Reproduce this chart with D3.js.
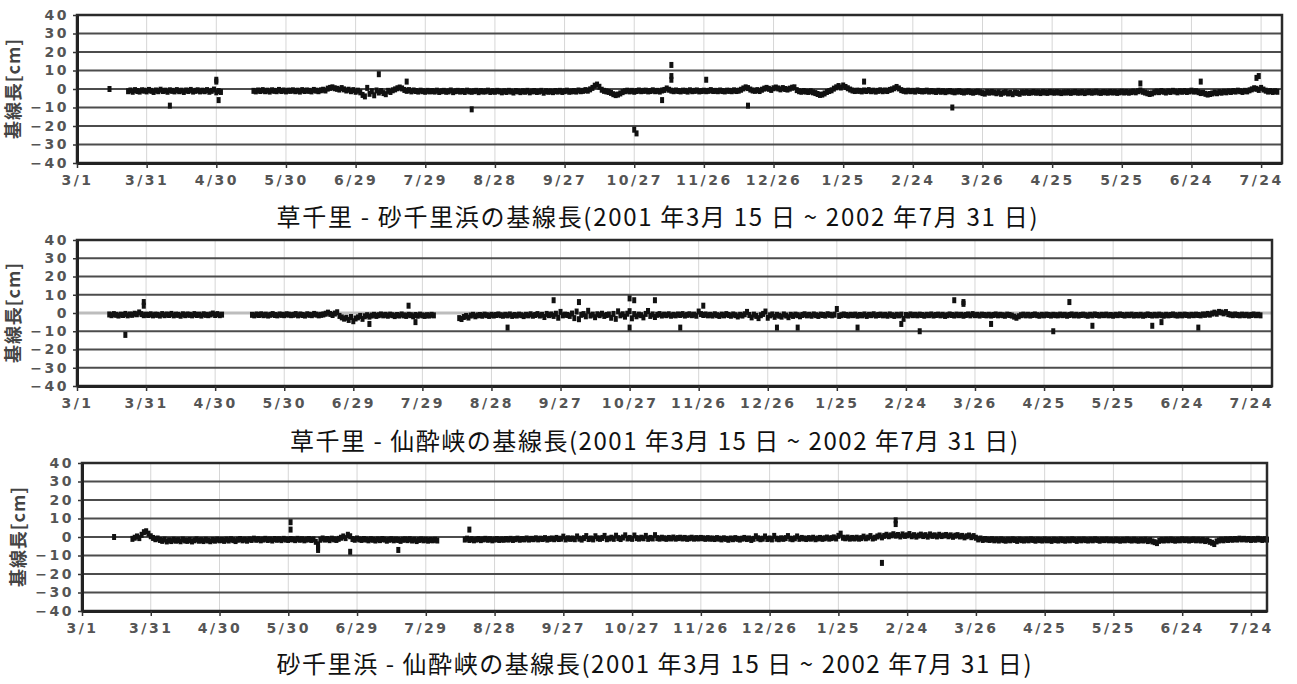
<!DOCTYPE html>
<html>
<head>
<meta charset="utf-8">
<style>
  body { margin: 0; background: #fff; }
  svg { display: block; }
  .tick text { font-family: "DejaVu Sans", sans-serif; font-size: 14px; font-weight: bold; fill: #555; letter-spacing: 2.5px; }
  .tick line { stroke: #333; stroke-width: 1.5; }
  .domain { stroke: #222; stroke-width: 3; }
  .title { font-family: "Noto Sans CJK JP", sans-serif; font-size: 24px; fill: #111; }
  .ylab { font-family: "Noto Sans CJK JP", sans-serif; font-size: 18px; font-weight: bold; fill: #444; }
</style>
</head>
<body>
<script src="https://cdn.jsdelivr.net/npm/d3@7"></script>
<script>

// x tick dates (every 30 days from 3/1/2001)
var tickDates = ["2001-03-01","2001-03-31","2001-04-30","2001-05-30","2001-06-29","2001-07-29",
  "2001-08-28","2001-09-27","2001-10-27","2001-11-26","2001-12-26","2002-01-25","2002-02-24",
  "2002-03-26","2002-04-25","2002-05-25","2002-06-24","2002-07-24"];
var yTicks = [40, 30, 20, 10, 0, -10, -20, -30, -40];

var titles = [
  "草千里 - 砂千里浜の基線長(2001 年3月 15 日 ~ 2002 年7月 31 日)",
  "草千里 - 仙酔峡の基線長(2001 年3月 15 日 ~ 2002 年7月 31 日)",
  "砂千里浜 - 仙酔峡の基線長(2001 年3月 15 日 ~ 2002 年7月 31 日)"
];
var yLabel = "基線長[cm]";

// 草千里 - 砂千里浜 : daily values [cm], one run per month / data block
var p1Runs = [
  ["2001-03-23", [-1.2,-0.8,-1.5,-0.6,-1.1,-1.4,-0.7,-0.9,-1.3,-0.5,-1.0,-1.6,-0.8,-1.2,-0.4,-1.1,-0.9,-1.5,-0.7,-1.0,
                  -1.3,-0.6,-1.2,-0.9,-1.6,-0.8,-1.1,-0.5,-1.4,-1.0,-0.7,-1.3,-0.9,-1.2,-0.6,-1.5,-1.0,-0.3,-1.8,-1.1,-1.6]],
  ["2001-05-16", [-1.0,-1.3,-0.8,-1.1,-0.6,-1.2,-0.9,-1.4,-0.7,-1.0,-1.2,-0.5,-1.1,-0.8,-1.3,-0.9]],
  ["2001-06-01", [-1.0,-0.7,-1.2,-0.9,-1.4,-0.6,-1.1,-0.8,-1.0,-1.3,-0.5,-0.9,-1.2,-0.7,-0.4,-0.8,0.2,0.6,0.9,0.4,0.1,-0.3,0.5,-0.2,-0.8,-0.4,-1.2,-0.6,-1.5,-0.9]],
  ["2001-07-01", [-1.8,-3.2,-4.0,0.6,-2.6,-1.2,-3.4,-0.8,-1.9,-1.1,-2.2,-2.8,-1.0,-1.6,-0.7,-0.2,0.4,0.8,0.3,-0.5,-1.0,-0.6,-1.3,-0.8,-1.1,-1.4,-0.9,-1.2,-1.5,-1.0,-1.3]],
  ["2001-08-01", [-1.1,-1.4,-0.9,-1.6,-1.2,-1.0,-1.5,-1.3,-0.8,-1.7,-1.2,-1.0,-1.4,-1.1,-1.6,-0.9,-1.3,-1.5,-1.2,-1.0,-1.7,-1.1,-1.4,-1.3,-0.9,-1.6,-1.2,-1.5,-1.0,-1.3,-1.8]],
  ["2001-09-01", [-1.2,-1.6,-1.0,-1.4,-1.9,-1.1,-1.3,-1.7,-1.2,-1.5,-1.0,-1.8,-1.3,-1.1,-1.6,-1.4,-1.0,-2.0,-1.2,-1.5,-1.3,-1.7,-1.1,-1.4,-1.0,-1.6,-1.2,-0.9,-1.5,-1.3]],
  ["2001-10-01", [-1.1,-1.4,-0.8,-1.2,-1.0,-0.6,-0.9,-0.2,0.6,1.8,2.4,1.2,-0.4,-1.0,-1.3,-1.6,-2.1,-2.8,-3.3,-3.0,-2.4,-1.7,-1.2,-0.9,-1.3,-1.0,-1.5,-1.1,-0.8,-1.2,-1.0]],
  ["2001-11-01", [-0.9,-1.3,-1.1,-0.7,-1.2,-1.0,-1.4,-0.8,-0.5,0.3,-0.4,-0.9,-1.2,-0.8,-1.1,-1.3,-0.9,-1.0,-1.4,-0.7,-1.2,-1.0,-0.8,-1.3,-1.1,-0.9,-1.2,-1.0,-0.6,-1.1]],
  ["2001-12-01", [-1.0,-1.2,-0.8,-1.1,-1.3,-0.9,-1.0,-1.2,-0.7,-1.1,-0.9,-0.4,0.3,0.9,0.5,-0.3,-0.8,-1.0,-0.6,-1.1,-0.4,0.2,0.6,0.1,-0.5,0.4,0.8,0.3,-0.2,0.5,0.0]],
  ["2002-01-01", [-0.3,0.2,0.7,0.9,-0.6,-1.2,-1.5,-1.1,-1.4,-1.6,-1.2,-1.8,-2.2,-2.7,-3.2,-3.0,-2.4,-1.6,-1.1,-0.7,0.2,0.9,1.6,0.8,1.9,1.1,0.4,-0.3,-0.8,-1.1,-0.9]],
  ["2002-02-01", [-1.0,-1.3,-0.8,-1.1,-0.6,-1.2,-0.9,-1.4,-1.0,-0.7,-1.2,-0.8,-1.1,-0.5,-0.2,0.4,1.1,0.3,-0.6,-1.0,-1.3,-0.9,-1.2,-1.0,-1.4,-0.8,-1.1,-1.3]],
  ["2002-03-01", [-1.2,-0.9,-1.4,-1.1,-1.3,-1.6,-1.0,-1.5,-1.2,-1.7,-1.3,-1.1,-1.5,-1.8,-1.4,-1.2,-1.6,-1.9,-1.5,-1.3,-1.7,-2.0,-1.6,-1.4,-1.8,-2.2,-2.5,-1.7,-2.0,-1.6,-1.9]],
  ["2002-04-01", [-2.3,-1.8,-2.6,-2.0,-1.7,-2.4,-2.1,-2.8,-1.9,-2.2,-2.6,-1.8,-2.0,-1.7,-2.1,-1.9,-1.6,-2.0,-1.8,-2.2,-1.7,-1.9,-2.1,-1.6,-1.8,-2.0,-1.7,-1.9,-2.2,-1.8]],
  ["2002-05-01", [-1.9,-1.7,-2.1,-1.8,-1.6,-2.0,-1.9,-1.7,-2.2,-1.8,-1.6,-2.0,-1.8,-1.5,-1.9,-2.1,-1.7,-1.8,-2.0,-1.6,-1.9,-1.7,-2.1,-1.8,-1.5,-1.9,-1.6,-2.0,-1.7,-1.4,-1.8]],
  ["2002-06-01", [-1.2,-0.8,-1.5,-1.9,-2.3,-2.7,-2.4,-1.8,-1.4,-1.7,-1.1,-1.5,-1.9,-1.3,-1.6,-1.0,-1.4,-1.8,-1.2,-1.5,-1.1,-1.6,-1.3,-0.9,-1.4,-1.2,-1.7,-2.2,-2.0,-2.6]],
  ["2002-07-01", [-3.0,-2.7,-2.4,-1.9,-2.3,-1.7,-2.0,-1.5,-1.8,-1.3,-1.6,-1.1,-1.4,-0.9,-1.2,-1.6,-1.0,-1.3,-0.7,-0.2,0.4,0.1,-0.5,0.6,-0.3,-0.9,-1.4,-1.1,-1.6,-1.2,-1.5]]
];
var p1Extra = [["2001-03-15",0],["2001-04-10",-9],["2001-04-30",5],["2001-04-30",4],["2001-05-01",-6],
  ["2001-07-09",8],["2001-07-21",4],["2001-08-18",-11],["2001-10-27",-22],["2001-10-28",-24],
  ["2001-11-08",-6],["2001-11-12",13],["2001-11-12",7],["2001-11-12",5],["2001-11-27",5],
  ["2001-12-15",-9],["2002-02-03",4],["2002-03-13",-10],["2002-06-02",3],["2002-06-28",4],
  ["2002-07-23",7],["2002-07-22",6]];

// 草千里 - 仙酔峡
var p2Runs = [
  ["2001-03-15", [-0.8,-1.2,-0.6,-1.0,-1.4,-0.9,-1.1,-0.5,-1.3,-0.8,-1.0,-0.4,-0.7,0.3,-0.6,-1.2,-0.9]],
  ["2001-04-01", [-1.1,-0.7,-1.3,-0.9,-1.0,-1.4,-0.6,-1.2,-0.8,-1.1,-0.5,-1.3,-0.9,-1.0,-1.5,-0.7,-1.2,-0.8,-1.0,-1.3,-0.6,-1.1,-0.9,-1.4,-0.7,-1.0,-1.2,-0.8,-0.3,-1.1]],
  ["2001-05-01", [-0.6,-1.2,-0.9]],
  ["2001-05-16", [-1.0,-1.3,-0.8,-1.1,-0.7,-1.2,-0.9,-1.4,-1.0,-0.6,-1.1,-1.3,-0.8,-1.0,-1.2,-0.7]],
  ["2001-06-01", [-0.9,-1.2,-1.0,-0.6,-1.3,-0.8,-1.1,-1.4,-0.7,-1.0,-1.2,-0.5,-0.9,-1.3,-1.0,-0.8,-0.4,0.2,-0.5,-1.1,-0.3,0.4,-1.6,-2.4,-3.1,-2.6,-3.8,-2.2,-4.5,-3.0]],
  ["2001-07-01", [-2.4,-1.6,-3.2,-1.8,-1.2,-2.0,-1.4,-1.0,-1.6,-1.2,-0.8,-1.3,-1.0,-1.5,-0.9,-1.2,-1.7,-1.1,-1.4,-0.8,-1.3,-1.6,-1.0,-1.2,-1.8,-1.1,-1.5,-0.9,-1.3,-1.6,-1.2]],
  ["2001-08-01", [-1.4,-1.0,-1.3]],
  ["2001-08-14", [-2.8,-3.3,-2.2,-1.6,-2.5,-1.4,-1.0,-1.8,-1.3,-1.1,-1.5,-0.9,-1.2,-1.6,-1.0,-1.4,-1.1,-0.8]],
  ["2001-09-01", [-1.2,-1.5,-1.0,-1.3,-0.8,-1.6,-1.1,-1.4,-0.9,-1.2,-1.7,-1.0,-1.3,-0.7,-1.5,-1.1,-0.6,-1.4,-1.0,-2.2,-0.5,-1.2,-0.8,-1.6,-0.4,-2.6,0.6,-1.3,-0.9,-1.1]],
  ["2001-10-01", [-1.6,-0.3,-2.8,0.8,-3.4,-1.0,-0.6,-1.8,1.2,-1.4,-0.9,-2.3,-0.7,-1.2,-0.4,-1.6,-1.1,-0.8,-2.6,-0.5,-3.2,0.9,-1.3,-0.7,-2.0,-0.4,1.0,-2.9,-0.6,-1.8,-0.9]],
  ["2001-11-01", [-1.2,-2.4,-0.5,1.1,-1.6,-0.8,-2.2,-1.0,-0.6,-1.4,-0.9,-1.2,-0.7,-1.5,-1.0,-1.3,-0.8,-1.1,-0.6,-1.4,-1.0,-0.7,-1.2,-0.9,-1.5,0.8,-0.6,-1.1,-0.8,-1.3]],
  ["2001-12-01", [-1.0,-1.4,-0.7,-1.2,-1.6,-0.9,-1.3,-0.6,-1.1,-1.5,-0.8,-1.2,-1.9,-1.0,-1.4,-0.7,0.6,-1.1,-2.4,-0.9,-1.6,-2.8,-1.2,-0.5,0.8,-2.6,-1.3,-0.8,-2.1,-1.0,-1.5]],
  ["2002-01-01", [-2.0,-0.8,-1.4,-2.3,-1.0,-1.6,-0.9,-1.2,-1.8,-1.1,-0.7,-1.3,-1.0,-1.5,-0.8,-1.2,-1.6,-0.9,-1.1,-1.4,-0.7,-1.0,-1.3,-0.9,2.2,-1.6,-1.2,-0.8,-1.1,-1.4,-1.0]],
  ["2002-02-01", [-1.2,-0.9,-1.5,-1.1,-1.3,-0.8,-1.6,-1.0,-1.2,-0.7,-1.4,-1.1,-0.9,-1.3,-1.0,-1.5,-0.8,-1.2,-1.6,-1.0,-1.3,-0.9,-3.2,-1.1,-1.4,-0.8,-1.2,-1.0]],
  ["2002-03-01", [-1.3,-0.9,-1.1,-1.5,-1.0,-1.2,-0.8,-1.4,-1.1,-0.9,-1.3,-1.0,-1.6,-1.2,-0.8,-1.1,-1.4,-0.9,-1.2,-1.0,-1.5,-1.1,-0.8,-1.3,-0.6,-1.2,-1.0,-1.4,-0.9,-1.1,-1.3]],
  ["2002-04-01", [-1.0,-1.4,-1.1,-0.8,-1.3,-1.0,-1.2,-1.5,-0.9,-1.1,-1.4,-2.0,-2.6,-1.8,-1.2,-0.9,-1.3,-1.0,-1.4,-1.1,-0.8,-1.2,-1.5,-1.0,-1.3,-0.9,-1.1,-1.4,-1.0,-1.2]],
  ["2002-05-01", [-1.3,-0.9,-1.2,-1.0,-1.5,-1.1,-0.8,-1.3,-1.0,-1.4,-1.1,-0.9,-1.2,-1.5,-1.0,-1.3,-0.8,-1.1,-1.4,-1.0,-1.2,-0.9,-1.3,-1.1,-1.5,-1.0,-1.2,-0.8,-1.1,-1.4,-1.0]],
  ["2002-06-01", [-1.2,-0.9,-1.4,-1.1,-1.3,-1.0,-1.5,-1.2,-0.8,-1.1,-1.4,-1.0,-1.3,-0.9,-1.2,-1.5,-1.0,-1.3,-1.1,-0.8,-1.2,-1.4,-1.0,-1.3,-0.9,-1.1,-1.4,-1.0,-1.2,-0.9]],
  ["2002-07-01", [-1.1,-1.3,-0.8,-1.0,-0.5,-0.9,-0.3,0.2,-0.4,0.6,0.3,-0.2,0.5,-0.6,-0.9,-1.2,-0.8,-1.1,-1.3,-0.9,-1.2,-1.0,-1.4,-1.1,-0.8,-1.2,-1.0,-1.3]]
];
var p2Extra = [["2001-03-22",-12],["2001-03-30",6],["2001-03-30",4],["2001-07-06",-6],["2001-07-23",4],
  ["2001-07-26",-5],["2001-09-04",-8],["2001-09-24",7],["2001-10-05",6],["2001-10-27",8],
  ["2001-10-27",-8],["2001-10-29",7],["2001-11-07",7],["2001-11-18",-8],["2001-11-28",4],
  ["2001-12-30",-8],["2002-01-08",-8],["2002-02-03",-8],["2002-02-22",-6],["2002-03-02",-10],
  ["2002-03-17",7],["2002-03-21",6],["2002-03-21",5],["2002-04-02",-6],["2002-04-29",-10],
  ["2002-05-06",6],["2002-05-16",-7],["2002-06-11",-7],["2002-06-15",-5],["2002-07-01",-8]];

// 砂千里浜 - 仙酔峡
var p3Runs = [
  ["2001-03-23", [-1.0,-0.4,0.3,-0.6,1.2,2.6,3.1,1.8,0.4]],
  ["2001-04-01", [-0.5,-1.2,-0.8,-1.6,-2.1,-1.4,-2.4,-1.8,-2.2,-1.5,-2.0,-1.7,-2.3,-1.4,-1.9,-2.1,-1.6,-2.4,-1.8,-1.3,-2.0,-1.7,-2.2,-1.5,-1.9,-2.3,-1.6,-2.0,-1.4,-1.8]],
  ["2001-05-01", [-1.6,-2.1,-1.4,-1.9,-1.2,-1.7,-2.2,-1.5,-1.1,-1.8,-1.4,-2.0,-1.3,-1.6,-0.9,-1.5,-1.2,-1.8,-1.4,-1.0,-1.6,-1.3,-1.9,-1.1,-1.5,-1.2,-1.7,-1.0,-1.4,-1.6,-1.1]],
  ["2001-06-01", [-1.3,-1.7,-1.0,-1.5,-1.2,-1.8,-1.4,-1.1,-1.6,-1.3,-2.6,-5.8,-1.5,-0.8,-1.4,-1.1,-1.7,-0.9,-1.3,-1.6,-1.0,-0.4,0.3,-0.6,1.2,0.4,-1.1,-1.5,-0.8,-1.3]],
  ["2001-07-01", [-1.6,-1.1,-1.4,-1.8,-1.2,-1.5,-1.9,-1.3,-1.7,-1.1,-1.4,-2.0,-1.5,-1.2,-1.8,-1.4,-1.6,-2.1,-1.5,-1.3,-1.7,-1.2,-1.9,-1.5,-2.2,-1.6,-1.3,-1.8,-1.5,-2.0,-1.6]],
  ["2001-08-01", [-1.8,-1.5,-1.9]],
  ["2001-08-15", [-1.4,-0.9,-1.6,-1.2,-1.8,-1.4,-1.1,-1.7,-1.3,-1.0,-1.5,-1.2,-1.8,-1.4,-1.1,-1.6,-1.3]],
  ["2001-09-01", [-1.5,-1.1,-1.4,-1.0,-1.6,-1.2,-0.9,-1.5,-1.1,-1.3,-0.8,-1.4,-1.0,-1.2,-0.7,-1.3,-0.9,-1.1,-0.6,-1.4,-1.0,-0.8,-1.2,-0.5,-1.1,-0.9,0.2,-1.3,-0.7,-1.0]],
  ["2001-10-01", [-0.8,-1.2,0.3,-0.9,-1.4,-0.6,0.5,-1.1,-0.8,-1.3,0.4,-0.7,-1.0,-0.5,0.6,-1.2,-0.8,-0.4,-1.0,0.7,-0.6,-1.1,-0.3,0.9,-0.8,-0.5,-1.0,0.8,-0.6,-0.9,-0.4]],
  ["2001-11-01", [-0.7,0.6,-1.0,-0.5,-0.8,1.0,-0.6,-0.9,-0.4,-0.7,-1.0,-0.5,-0.8,-0.3,-0.9,-0.6,-0.4,-0.8,-0.5,-1.0,-0.7,-0.4,-0.9,-0.6,-0.8,-0.5,-0.7,-1.0,-0.6,-0.9]],
  ["2001-12-01", [-0.8,-1.1,-0.6,-0.9,-1.3,-0.7,-1.0,-1.5,-0.8,-1.2,-0.6,-1.0,-1.4,-0.9,-0.5,-1.1,-0.8,-1.6,-1.0,0.4,-0.7,-1.2,-0.9,0.3,-1.1,-0.8,-1.3,0.6,-0.9,-1.2,-0.7]],
  ["2002-01-01", [-1.0,-0.6,0.5,-0.9,-1.2,-0.7,0.3,-1.0,-0.5,-0.8,-1.1,-0.6,-0.9,-0.4,-1.2,-0.8,-0.5,-1.0,-0.7,-0.3,-0.9,-0.6,-0.2,-0.8,0.6,1.8,-0.4,-0.7,-0.3,-0.9,-0.5]],
  ["2002-02-01", [-0.8,-0.4,-0.9,-0.6,0.2,-0.7,-0.3,0.5,-0.8,-0.4,0.3,0.8,-0.2,0.6,1.2,0.4,0.9,1.5,0.7,1.1,0.3,1.4,0.6,0.9,1.6,0.4,1.0,0.2]],
  ["2002-03-01", [0.8,1.3,0.5,1.0,0.2,1.4,0.6,0.9,0.3,1.2,0.5,0.8,1.1,0.4,0.9,0.1,0.7,1.0,0.3,0.6,-0.2,0.4,0.8,-0.1,0.5,-0.4,-1.3,-0.8,-1.6,-1.1,-1.4]],
  ["2002-04-01", [-1.6,-1.2,-1.8,-1.4,-1.9,-1.3,-1.7,-2.0,-1.5,-1.8,-1.3,-1.6,-2.1,-1.4,-1.7,-1.9,-1.5,-1.8,-1.3,-1.6,-2.0,-1.5,-1.7,-1.9,-1.4,-1.8,-1.6,-2.1,-1.5,-1.7]],
  ["2002-05-01", [-1.9,-1.4,-1.7,-2.0,-1.5,-1.8,-1.3,-1.6,-2.1,-1.5,-1.8,-1.4,-1.7,-1.9,-1.5,-1.8,-1.3,-1.6,-2.0,-1.5,-1.7,-1.4,-1.8,-1.6,-1.9,-1.5,-1.7,-2.0,-1.6,-1.8,-1.4]],
  ["2002-06-01", [-1.7,-1.9,-1.5,-1.8,-2.0,-1.6,-1.9,-1.5,-2.2,-1.7,-2.4,-2.8,-3.3,-2.1,-1.6,-1.9,-1.5,-1.8,-1.4,-1.7,-2.0,-1.6,-1.8,-1.3,-1.7,-1.5,-1.9,-1.6,-1.4,-1.8]],
  ["2002-07-01", [-1.5,-1.9,-1.6,-2.2,-1.8,-2.6,-3.1,-3.8,-2.4,-1.9,-1.5,-1.8,-1.3,-1.6,-1.2,-1.5,-1.1,-1.4,-0.9,-1.3,-1.0,-1.4,-1.1,-1.6,-1.2,-1.5,-1.0,-1.3,-1.6,-1.2,-1.4]]
];
var p3Extra = [["2001-03-15",0],["2001-05-31",8],["2001-05-31",4],["2001-06-12",-4],["2001-06-12",-7],
  ["2001-06-26",-8],["2001-07-17",-7],["2001-08-17",4],["2002-02-13",-14],["2002-02-19",9],["2002-02-19",7]];

var panels = [
  { runs: p1Runs, extra: p1Extra, title: titles[0] },
  { runs: p2Runs, extra: p2Extra, title: titles[1] },
  { runs: p3Runs, extra: p3Extra, title: titles[2] }
];

// layout (pixels) for each panel
var layout = [
  { left: 77, right: 1282, top: 15,  bottom: 163, xEnd: "2002-08-02", titleX: 657, titleY: 226, titleLen: 761, zeroLight: false },
  { left: 77, right: 1272, top: 240, bottom: 386, xEnd: "2002-08-02", titleX: 654, titleY: 450, titleLen: 728, zeroLight: true },
  { left: 82, right: 1267, top: 463, bottom: 611, xEnd: "2002-07-31", titleX: 654, titleY: 673, titleLen: 755, zeroLight: false }
];

var parse = d3.utcParse("%Y-%m-%d");
var fmt = d3.utcFormat("%-m/%-d");

var svg = d3.select("body").append("svg")
    .attr("width", 1297)
    .attr("height", 684);

panels.forEach(function (p, k) {
    var L = layout[k];
    var x = d3.scaleUtc().domain([parse("2001-03-01"), parse(L.xEnd)]).range([L.left, L.right]);
    var y = d3.scaleLinear().domain([-40, 40]).range([L.bottom, L.top]);
    var g = svg.append("g");

    // vertical grid
    g.append("g").selectAll("line")
        .data(tickDates.slice(1))
        .enter().append("line")
        .attr("x1", function (d) { return x(parse(d)); })
        .attr("x2", function (d) { return x(parse(d)); })
        .attr("y1", L.top)
        .attr("y2", L.bottom)
        .attr("stroke", "#d6d6d6");

    // horizontal grid
    g.append("g").selectAll("line")
        .data(yTicks.slice(1, -1))
        .enter().append("line")
        .attr("x1", L.left)
        .attr("x2", L.right)
        .attr("y1", function (d) { return y(d); })
        .attr("y2", function (d) { return y(d); })
        .attr("stroke", function (d) { return d === 0 && L.zeroLight ? "#bdbdbd" : "#4c4c4c"; })
        .attr("stroke-width", function (d) { return d === 0 && L.zeroLight ? 3 : 2.2; });

    // points
    var pts = [];
    p.runs.forEach(function (r) {
        var s = parse(r[0]);
        r[1].forEach(function (v, i) { pts.push([d3.utcDay.offset(s, i), v]); });
    });
    p.extra.forEach(function (e) { pts.push([parse(e[0]), e[1]]); });

    g.append("g").selectAll("rect")
        .data(pts)
        .enter().append("rect")
        .attr("x", function (d) { return x(d[0]) - 2; })
        .attr("y", function (d) { return y(d[1]) - 3; })
        .attr("width", 4)
        .attr("height", 6)
        .attr("fill", "#111");

    // frame
    g.append("rect")
        .attr("x", L.left).attr("y", L.top)
        .attr("width", L.right - L.left).attr("height", L.bottom - L.top)
        .attr("fill", "none")
        .attr("stroke", "#2a2a2a")
        .attr("stroke-width", 2.5);

    // axes
    g.append("g")
        .attr("transform", "translate(0," + L.bottom + ")")
        .call(d3.axisBottom(x)
            .tickValues(tickDates.map(parse))
            .tickFormat(fmt)
            .tickSize(5)
            .tickSizeOuter(0)
            .tickPadding(7));

    g.append("g")
        .attr("transform", "translate(" + L.left + ",0)")
        .call(d3.axisLeft(y)
            .tickValues(yTicks)
            .tickSize(4)
            .tickSizeOuter(0)
            .tickPadding(4));

    // y label
    g.append("text")
        .attr("class", "ylab")
        .attr("transform", "translate(" + (L.left - 57) + "," + ((L.top + L.bottom) / 2) + ") rotate(-90)")
        .attr("text-anchor", "middle")
        .attr("textLength", 100)
        .attr("lengthAdjust", "spacing")
        .text(yLabel);

    // title
    g.append("text")
        .attr("class", "title")
        .attr("x", L.titleX)
        .attr("y", L.titleY)
        .attr("text-anchor", "middle")
        .attr("textLength", L.titleLen)
        .attr("lengthAdjust", "spacing")
        .text(p.title);
});

</script>
</body>
</html>
